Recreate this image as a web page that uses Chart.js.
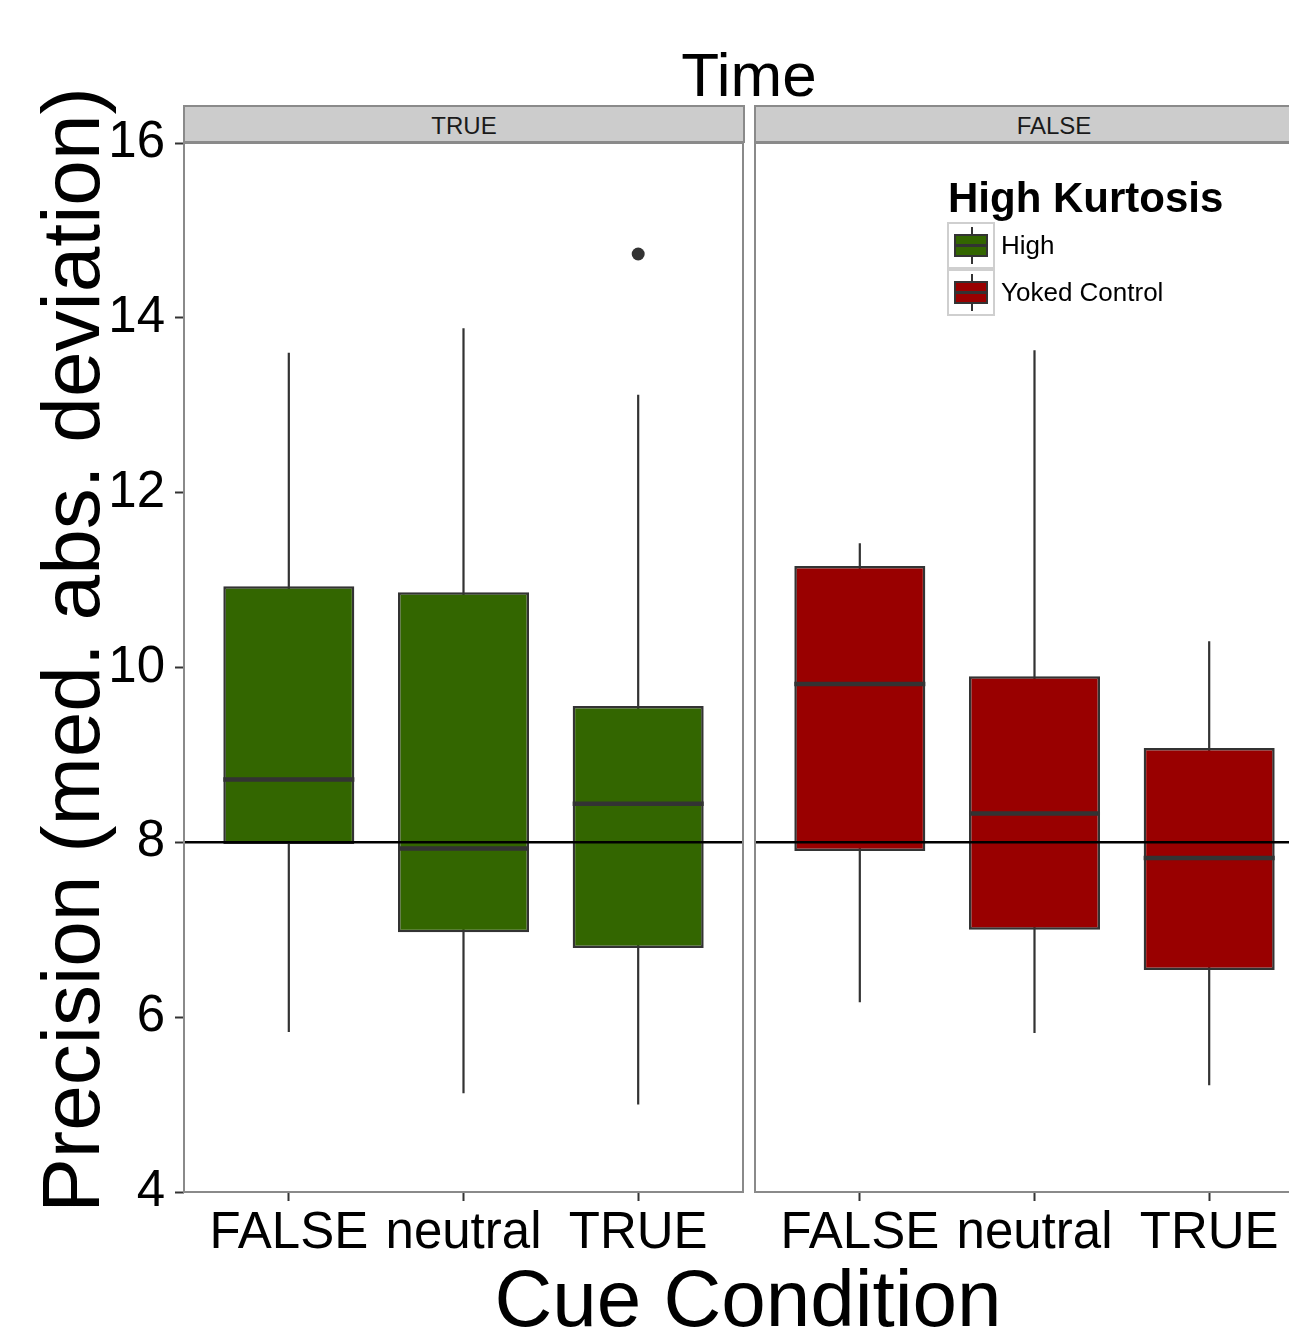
<!DOCTYPE html>
<html>
<head>
<meta charset="utf-8">
<script src="https://cdn.jsdelivr.net/npm/chart.js@4.4.1/dist/chart.umd.min.js"></script>
<style>
  html, body { margin: 0; padding: 0; background: #fff; overflow: hidden; width: 1289px; height: 1341px; }
  body { position: relative; font-family: "Liberation Sans", Arial, sans-serif; color: #000; }
  .abs { position: absolute; }
  .strip { position: absolute; top: 105px; height: 38px; line-height: 38px; background: #cccccc;
           border: 2px solid #8a8a8a; box-sizing: border-box; text-align: center; font-size: 24px; color: #1a1a1a; }
  .key { position: absolute; left: 947px; width: 48px; height: 47px; box-sizing: border-box;
         border: 2px solid #cfcfcf; background: #fff; }
  .key .wh { position: absolute; left: 22px; top: 3px; width: 2px; bottom: 3px; background: #333; }
  .key .bx { position: absolute; left: 5px; right: 5px; top: 10px; bottom: 10px; box-sizing: border-box;
             border: 2.5px solid #333; }
  .key .md { position: absolute; left: 0; right: 0; top: 50%; height: 3px; margin-top: -1.5px; background: #333; }
  .klabel { position: absolute; left: 1001px; font-size: 26px; height: 47px; line-height: 47px; }
</style>
</head>
<body>
<div class="abs" style="left:549px;width:400px;top:44px;font-size:62px;line-height:1;text-align:center;">Time</div>
<div class="strip" style="left:183px;width:562px;">TRUE</div>
<div class="strip" style="left:754px;width:600px;">FALSE</div>

<canvas id="panelTrue" class="abs" width="745" height="1193" style="left:0;top:90px;"></canvas>
<canvas id="panelFalse" class="abs" width="616" height="1193" style="left:700px;top:90px;"></canvas>

<div class="abs" style="left:-579px;top:609px;width:1300px;height:82px;font-size:82px;line-height:82px;text-align:center;white-space:nowrap;transform:rotate(-90deg);">Precision (med. abs. deviation)</div>
<div class="abs" style="left:448px;width:600px;top:1259px;font-size:80px;line-height:1;text-align:center;white-space:nowrap;">Cue Condition</div>

<div class="abs" style="left:948px;top:177px;font-size:42px;line-height:1;font-weight:bold;white-space:nowrap;">High Kurtosis</div>
<div class="key" style="top:222px;"><div class="wh"></div><div class="bx" style="background:#336600;"><div class="md"></div></div></div>
<div class="key" style="top:269px;"><div class="wh"></div><div class="bx" style="background:#990000;"><div class="md"></div></div></div>
<div class="klabel" style="top:222px;">High</div>
<div class="klabel" style="top:269px;">Yoked Control</div>

<script>
// categories and tick labels
const cueConditions = ["FALSE", "neutral", "TRUE"];
const yTicks = [4, 6, 8, 10, 12, 14, 16];
const referenceLine = 8;

// Time = TRUE, High
const highLow = [5.83, 5.13, 5.00];
const highQ1 = [7.98, 6.97, 6.79];
const highMedian = [8.72, 7.93, 8.44];
const highQ3 = [10.93, 10.86, 9.56];
const highHigh = [13.60, 13.88, 13.12];
const highOutliers = [[], [], [14.73]];

// Time = FALSE, Yoked Control
const yokedLow = [6.17, 5.82, 5.22];
const yokedQ1 = [7.90, 7.00, 6.54];
const yokedMedian = [9.81, 8.33, 7.82];
const yokedQ3 = [11.16, 9.90, 9.08];
const yokedHigh = [11.42, 13.63, 10.30];
const yokedOutliers = [[], [], []];

const xMin = 0.4, xMax = cueConditions.length + 0.6;

// medians + panel border drawn on top of the datasets
const boxExtras = {
    id: "boxExtras",
    afterDatasetsDraw(chart, args, opts) {
        const { ctx, chartArea, scales } = chart;
        const meta = chart.getDatasetMeta(opts.boxIndex);
        ctx.save();
        ctx.strokeStyle = "#333333";
        ctx.lineWidth = 4.5;
        meta.data.forEach((bar, i) => {
            const y = scales.y.getPixelForValue(opts.medians[i]);
            ctx.beginPath();
            ctx.moveTo(bar.x - bar.width / 2, y);
            ctx.lineTo(bar.x + bar.width / 2, y);
            ctx.stroke();
        });
        ctx.strokeStyle = "#8a8a8a";
        ctx.lineWidth = 2;
        ctx.strokeRect(chartArea.left, chartArea.top, chartArea.width, chartArea.height);
        ctx.restore();
    }
};

function makePanel(canvasId, fill, low, q1, median, q3, high, outliers, showY, padLeft) {
    const boxes = cueConditions.map((c, i) => ({ x: i + 1, y: [q1[i], q3[i]] }));
    const whiskers = [];
    cueConditions.forEach((c, i) => {
        whiskers.push({ x: i + 1, y: low[i] }, { x: i + 1, y: high[i] }, { x: i + 1.5, y: null });
    });
    const points = [];
    outliers.forEach((list, i) => list.forEach(v => points.push({ x: i + 1, y: v })));

    return new Chart(document.getElementById(canvasId), {
        type: "bar",
        data: {
            datasets: [
                {
                    type: "line",
                    data: [{ x: xMin, y: referenceLine }, { x: xMax, y: referenceLine }],
                    borderColor: "#000",
                    borderWidth: 2.5,
                    pointRadius: 0
                },
                {
                    type: "line",
                    data: points,
                    showLine: false,
                    pointRadius: 6.5,
                    pointBackgroundColor: "#333333",
                    pointBorderWidth: 0
                },
                {
                    type: "bar",
                    data: boxes,
                    backgroundColor: fill,
                    borderColor: "#333333",
                    borderWidth: 2.5,
                    borderSkipped: false,
                    categoryPercentage: 1,
                    barPercentage: 0.75
                },
                {
                    type: "line",
                    data: whiskers,
                    borderColor: "#333333",
                    borderWidth: 2.2,
                    pointRadius: 0,
                    spanGaps: false
                }
            ]
        },
        options: {
            responsive: false,
            animation: false,
            layout: { autoPadding: false, padding: { top: 53, left: padLeft, right: 2, bottom: 0 } },
            plugins: {
                legend: { display: false },
                tooltip: { enabled: false },
                boxExtras: { boxIndex: 2, medians: median }
            },
            scales: {
                x: {
                    type: "linear",
                    offset: false,
                    min: xMin,
                    max: xMax,
                    afterBuildTicks: (s) => { s.ticks = cueConditions.map((c, i) => ({ value: i + 1 })); },
                    afterFit: (s) => { s.height = 91; },
                    ticks: {
                        callback: (v) => cueConditions[v - 1],
                        font: { family: "Liberation Sans", size: 51 },
                        color: "#000",
                        padding: 2,
                        maxRotation: 0,
                        autoSkip: false
                    },
                    grid: { offset: false, drawOnChartArea: false, tickLength: 9, tickColor: "#333333", tickWidth: 2 },
                    border: { display: false }
                },
                y: {
                    display: showY,
                    min: 4,
                    max: 16,
                    afterBuildTicks: (s) => { s.ticks = yTicks.map(v => ({ value: v })); },
                    afterFit: (s) => { if (showY) s.width = 184; },
                    ticks: {
                        font: { family: "Liberation Sans", size: 51 },
                        color: "#000",
                        padding: 10
                    },
                    grid: { drawOnChartArea: false, tickLength: 9, tickColor: "#333333", tickWidth: 2 },
                    border: { display: false }
                }
            }
        },
        plugins: [boxExtras]
    });
}

makePanel("panelTrue", "#336600", highLow, highQ1, highMedian, highQ3, highHigh, highOutliers, true, 0);
makePanel("panelFalse", "#990000", yokedLow, yokedQ1, yokedMedian, yokedQ3, yokedHigh, yokedOutliers, false, 55);
</script>
</body>
</html>
